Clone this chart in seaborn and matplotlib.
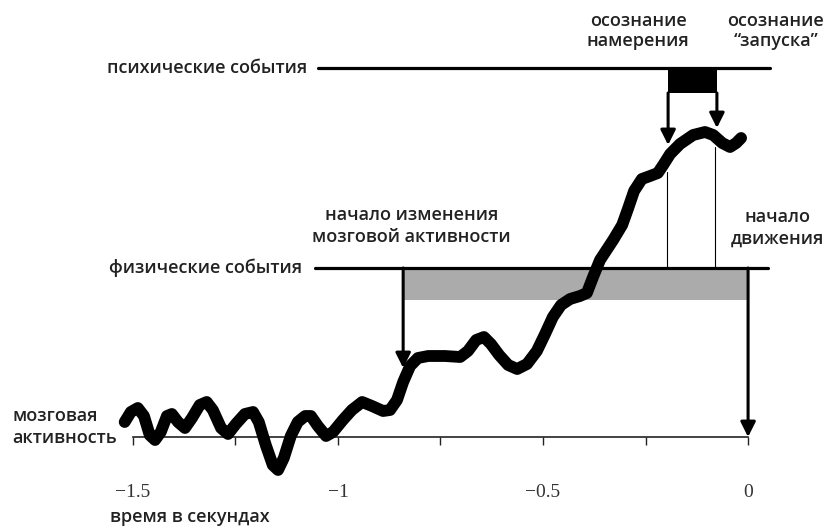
import matplotlib
matplotlib.use("Agg")
import matplotlib.pyplot as plt
import seaborn as sns

# brain activity trace (time in seconds, activity in arbitrary units)
time_s = [-1.520, -1.505, -1.488, -1.473, -1.459, -1.446, -1.432, -1.417, -1.405, -1.390,
          -1.373, -1.356, -1.337, -1.320, -1.305, -1.285, -1.268, -1.249, -1.227, -1.207,
          -1.193, -1.176, -1.159, -1.146, -1.132, -1.115, -1.098, -1.080, -1.066, -1.049,
          -1.029, -1.012, -0.988, -0.966, -0.941, -0.917, -0.890, -0.873, -0.856, -0.841,
          -0.824, -0.805, -0.780, -0.739, -0.702, -0.683, -0.663, -0.644, -0.627, -0.607,
          -0.585, -0.563, -0.539, -0.515, -0.495, -0.476, -0.456, -0.434, -0.410, -0.393,
          -0.378, -0.361, -0.329, -0.307, -0.293, -0.278, -0.259, -0.239, -0.220, -0.207,
          -0.190, -0.166, -0.134, -0.105, -0.085, -0.063, -0.044, -0.029, -0.017]
activity = [1.5, 2.5, 2.9, 2.1, 0.2, -0.3, 0.5, 2.1, 2.3, 1.5,
            0.9, 1.9, 3.2, 3.5, 2.7, 0.9, 0.3, 1.3, 2.3, 2.5,
            1.5, -0.8, -2.8, -3.3, -2.1, 0.1, 1.5, 2.1, 2.1, 1.1,
            0.1, 0.5, 1.7, 2.7, 3.5, 3.1, 2.6, 2.7, 3.7, 5.5,
            7.1, 7.9, 8.1, 8.1, 8.0, 8.6, 9.7, 10.0, 9.3, 8.2,
            7.2, 6.8, 7.3, 8.6, 10.3, 12.0, 13.2, 13.8, 14.1, 14.4,
            16.0, 17.7, 19.7, 21.2, 22.8, 24.6, 25.8, 26.1, 26.4, 27.2,
            28.3, 29.3, 30.2, 30.5, 30.2, 29.4, 29.0, 29.4, 29.9]

tick_vals = [-1.5, -1.25, -1.0, -0.75, -0.5, -0.25, 0.0]
tick_labels = ["\u22121.5", "", "\u22121", "", "\u22120.5", "", "0"]

# event times (s)
brain_change_t = -0.841
intention_t = -0.195
launch_t = -0.076
movement_t = 0.0

# levels of the event lines
phys_level = 16.9
psych_level = 36.9

sns.set_theme(style="white")
plt.rcParams["font.family"] = ["Open Sans", "DejaVu Sans"]

fig = plt.figure(figsize=(8.26, 5.26), dpi=100)
ax = fig.add_axes([0, 0, 1, 1])
ax.set_xlim(-1.824, 0.190)
ax.set_ylim(-8.9, 43.7)

sns.lineplot(x=time_s, y=activity, ax=ax, color="black", linewidth=8.5,
             solid_capstyle="round", solid_joinstyle="round", zorder=5)

# time axis
for side in ["top", "right", "left"]:
    ax.spines[side].set_visible(False)
ax.spines["bottom"].set_position(("data", 0))
ax.spines["bottom"].set_bounds(-1.5, 0)
ax.spines["bottom"].set_color("#222222")
ax.spines["bottom"].set_linewidth(1.2)
ax.set_yticks([])
ax.set_xticks(tick_vals)
ax.set_xticklabels(tick_labels, family="Liberation Serif", fontsize=14, color="#333333")
ax.tick_params(axis="x", direction="out", length=6, width=1, color="#222222", pad=28,
               bottom=True)

# event lines
ax.plot([-1.056, 0.049], [phys_level, phys_level], color="black", lw=2.3)
ax.plot([-1.049, 0.054], [psych_level, psych_level], color="black", lw=2.3)

# grey band between brain change and movement
ax.fill_between([brain_change_t, movement_t], 13.7, phys_level, color="#ababab", lw=0)
# black box between intention and launch awareness
ax.fill_between([intention_t, launch_t], 34.4, psych_level, color="black", lw=0)

arrow = dict(arrowstyle="-|>,head_length=0.6,head_width=0.3", color="black", lw=2.2,
             mutation_scale=15, shrinkA=0, shrinkB=0)
ax.annotate("", xy=(brain_change_t, 6.9), xytext=(brain_change_t, phys_level), arrowprops=arrow)
ax.annotate("", xy=(movement_t, 0.0), xytext=(movement_t, phys_level), arrowprops=arrow)
ax.annotate("", xy=(intention_t, 29.2), xytext=(intention_t, 34.4), arrowprops=arrow)
ax.annotate("", xy=(launch_t, 30.9), xytext=(launch_t, 34.4), arrowprops=arrow)

# thin drop lines from the awareness moments
ax.plot([-0.198, -0.198], [26.5, phys_level], color="black", lw=0.8)
ax.plot([-0.080, -0.080], [29.0, phys_level], color="black", lw=0.8)

txt = dict(fontsize=13, fontweight="semibold", color="#222222")
ax.text(-1.076, psych_level, "психические события", ha="right", va="center", **txt)
ax.text(-1.088, phys_level, "физические события", ha="right", va="center", **txt)
ax.text(-1.793, 1.0, "мозговая\nактивность", ha="left", va="center", linespacing=1.25, **txt)
ax.text(-0.820, 21.1, "начало изменения\nмозговой активности", ha="center", va="center",
        linespacing=1.25, **txt)
ax.text(0.071, 20.9, "начало\nдвижения", ha="center", va="center", linespacing=1.25, **txt)
ax.text(-0.268, 40.6, "осознание\nнамерения", ha="center", va="center", linespacing=1.2, **txt)
ax.text(0.068, 40.6, "осознание\n“запуска”", ha="center", va="center", linespacing=1.2, **txt)
ax.text(-1.361, -8.0, "время в секундах", ha="center", va="center", **txt)

fig.savefig("out.png", dpi=100)
